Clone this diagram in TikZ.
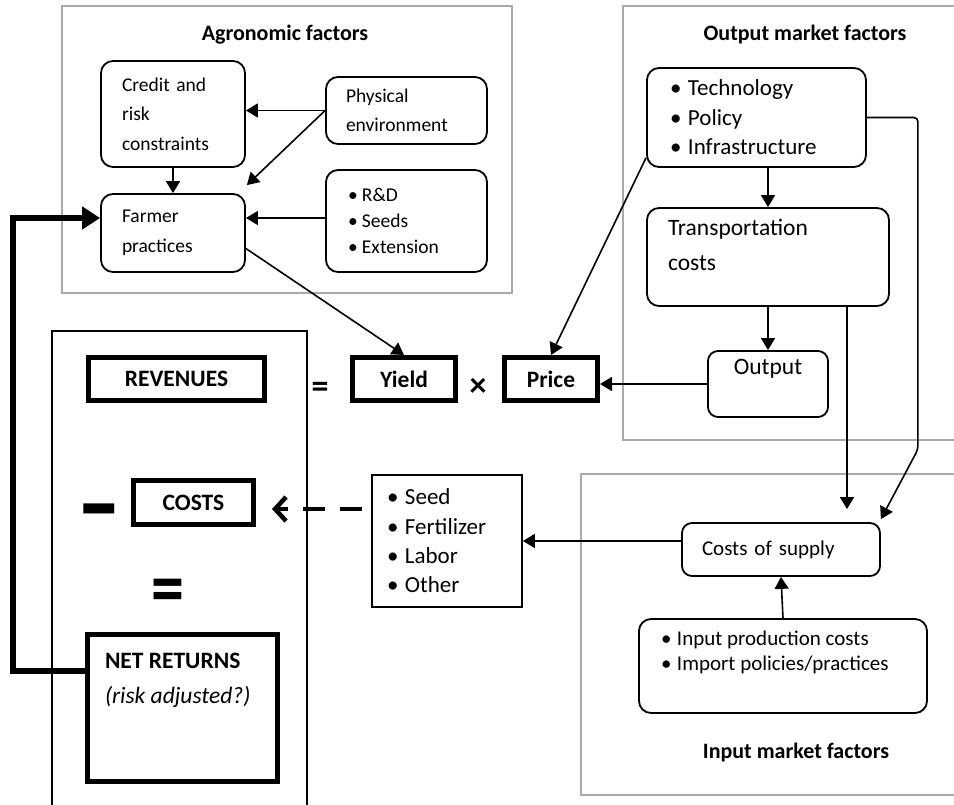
\documentclass[tikz,border=0pt]{standalone}
\usepackage{fontspec}
\usepackage{graphicx}
\setmainfont{Carlito}
\usetikzlibrary{arrows.meta,positioning,calc}
\definecolor{panelgray}{RGB}{170,170,170}
\newcommand{\bul}[1][14pt]{\makebox[#1][l]{\textbullet}}
\tikzset{
    panel/.style = {draw=panelgray, line width=2pt},
    panel-title/.style = {font=\bfseries\fontsize{22}{26}\selectfont},
    round-box/.style = {draw, line width=1.8pt, rounded corners=12pt, inner sep=0pt, align=left},
    plain-box/.style = {draw, line width=1.8pt, inner sep=0pt, align=left},
    thick-box/.style = {draw, line width=5pt, inner sep=0pt, font=\bfseries\fontsize{23.5}{28}\selectfont},
    agro-text/.style = {font=\fontsize{19.5}{29.5}\selectfont},
    market-text/.style = {font=\fontsize{23}{29.5}\selectfont},
    sign/.style = {inner sep=0pt, font=\bfseries\fontsize{34}{34}\selectfont},
    arrow/.style = {line width=1.6pt, -{Triangle[length=12pt,width=14pt]}},
    feedback/.style = {line width=6pt, -{Triangle[length=18pt,width=22pt]}},
    dash-arrow/.style = {line width=4.5pt, dash pattern=on 22pt off 15pt, dash phase=28pt,
        -{Straight Barb[length=11pt,width=24pt]}},
}
\begin{document}
\begin{tikzpicture}[x=1pt, y=-1pt]
\useasboundingbox (0,0) rectangle (954,805);

% panels
\draw[panel] (62,6) rectangle (512,293);
\node[panel-title] (agro-title) at (285,35) {Agronomic factors};
\draw[panel] (960,6) -- (623,6) -- (623,440) -- (960,440);
\node[panel-title] (output-title) at (805,35) {Output market factors};
\draw[panel] (960,474) -- (581,474) -- (581,795) -- (960,795);
\node[panel-title] (input-title) at (796,753) {Input market factors};
\draw[line width=1.8pt] (52,810) -- (52,331) -- (307,331) -- (307,810);

% agronomic factors
\node[round-box, agro-text, minimum width=144pt, minimum height=106pt, text width=102pt] (credit) at (173,114) {Credit and\\risk\\constraints};
\node[round-box, agro-text, minimum width=161pt, minimum height=67pt, text width=121pt] (physical) at (406.5,110.5) {Physical\\environment};
\node[round-box, agro-text, minimum width=144pt, minimum height=78pt, text width=102pt] (farmer) at (173,233) {Farmer\\practices};
\node[round-box, font=\fontsize{19.5}{26}\selectfont, minimum width=161pt, minimum height=102pt, text width=117pt] (rd) at (406.5,221) {\bul R\&D\\\bul Seeds\\\bul Extension};

% output market factors
\node[round-box, market-text, minimum width=219pt, minimum height=99pt, text width=173pt] (tech) at (756.5,117.5) {\bul[18pt]Technology\\\bul[18pt]Policy\\\bul[18pt]Infrastructure};
\node[round-box, font=\fontsize{23.5}{35}\selectfont, minimum width=242pt, minimum height=98pt] (transport) at (768,257) {\begin{minipage}[c][76pt][t]{200pt}Transportation\\costs\end{minipage}};
\node[round-box, font=\fontsize{23.5}{28}\selectfont, rounded corners=10pt, minimum width=120pt, minimum height=66pt] (output) at (768,384) {\begin{minipage}[c][50pt][t]{100pt}\centering Output\end{minipage}};

% returns equation
\node[thick-box, minimum width=176pt, minimum height=43pt] (revenues) at (176.5,379) {REVENUES};
\node[sign] (equals) at (320,390) {=};
\node[thick-box, minimum width=103pt, minimum height=43pt] (yield) at (404,379) {Yield};
\node[sign] (times) at (478,387) {×};
\node[thick-box, minimum width=93pt, minimum height=43pt] (price) at (551,379) {Price};
\node[sign, font=\bfseries\fontsize{46}{46}\selectfont] (minus) at (99,523) {\scalebox{1.9}[2.5]{–}};
\node[thick-box, minimum width=120pt, minimum height=44pt] (costs) at (193.5,502.5) {COSTS};
\node[sign, font=\bfseries\fontsize{66}{66}\selectfont] (result) at (168,597) {\scalebox{1}[1.2]{=}};
\node[thick-box, font=\fontsize{23.5}{35}\selectfont, minimum width=190pt, minimum height=147pt] (netret) at (182.5,708) {\begin{minipage}[c][110pt][t]{155pt}\textbf{NET RETURNS}\\\textit{(risk adjusted?)}\end{minipage}};

% input market factors
\node[plain-box, font=\fontsize{23}{29.3}\selectfont, minimum width=150pt, minimum height=132pt, text width=120pt] (seeds) at (447,541) {\bul[18pt]Seed\\\bul[18pt]Fertilizer\\\bul[18pt]Labor\\\bul[18pt]Other};
\node[round-box, font=\fontsize{21}{25}\selectfont, rounded corners=10pt, minimum width=198pt, minimum height=53pt, text width=158pt] (supply) at (781,549.5) {Costs of supply};
\node[round-box, font=\fontsize{21}{25}\selectfont, minimum width=288pt, minimum height=94pt] (inputs) at (783,666) {\begin{minipage}[c][71pt][t]{244pt}\bul[16pt]Input production costs\\\bul[16pt]Import policies/practices\end{minipage}};

% connectors
\draw[arrow] (physical.west) -- (physical.west -| credit.east);
\draw[arrow] (physical.west) -- ($(farmer.north east)+(1,-8)$);
\draw[arrow] (credit.south) -- (farmer.north);
\draw[arrow] ($(rd.west)+(0,-3)$) -- ($(farmer.east)+(0,-15)$);
\draw[arrow] (farmer.-12) -- (yield.north);
\draw[arrow] (tech.200) -- (price.north);
\draw[arrow] (tech.south -| transport.north) -- (transport.north);
\draw[arrow] (transport.south) -- (output.north);
\draw[arrow] (output.west) -- (output.west -| price.east);
\draw[arrow, shorten >=13pt] ([xshift=79pt]transport.south) -- ([xshift=79pt]transport.south |- supply.north);
\draw[arrow, rounded corners=4pt] (tech.east) -- ++(51,0) -- ++(0,332) -- ([yshift=3pt]supply.north east);
\draw[arrow] (supply.west |- seeds.east) -- (seeds.east);
\draw[arrow] (inputs.north) -- (supply.south);
\coordinate (dash-start) at ([yshift=32pt]seeds.west);
\draw[dash-arrow, shorten >=16pt] (dash-start) -- (dash-start -| costs.east);
\draw[feedback] ([yshift=37pt]netret.west) -- ++(-72,0) |- ([yshift=15pt]farmer.west);
\end{tikzpicture}
\end{document}
